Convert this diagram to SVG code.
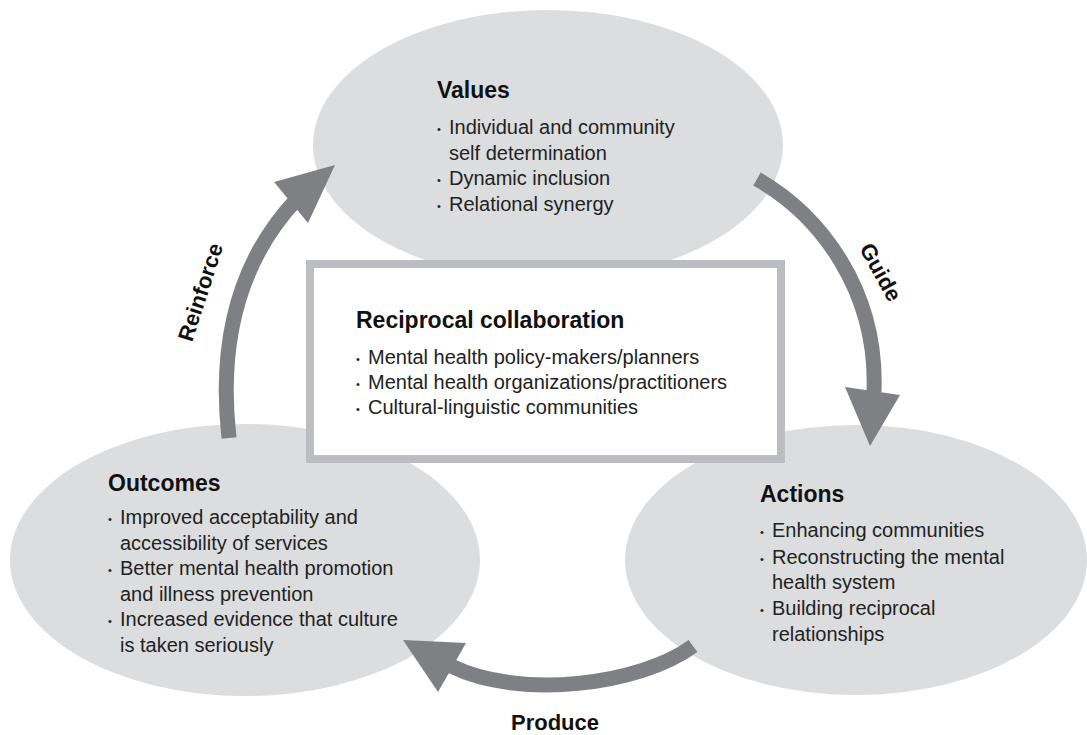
<svg xmlns="http://www.w3.org/2000/svg" width="1087" height="735" viewBox="0 0 1087 735">
<style>
.ell{fill:#dcdddf;}
.box{fill:#ffffff;stroke:#bcbdc0;stroke-width:8;}
.h{font-family:"Liberation Sans",Arial,sans-serif;font-weight:bold;font-size:23px;fill:#111;}
.t{font-family:"Liberation Sans",Arial,sans-serif;font-size:20px;fill:#222;}
.bl{font-size:11px;}
.lbl{font-family:"Liberation Sans",Arial,sans-serif;font-weight:bold;font-size:22px;fill:#111;}
.shaft{fill:none;stroke:#7f8084;stroke-width:15;stroke-linecap:butt;}
.head{fill:#7f8084;}
</style>
<rect width="1087" height="735" fill="#ffffff"/>
<g id="values">
<ellipse class="ell" cx="548" cy="145" rx="235" ry="135"/>
<text class="h" x="437" y="98">Values</text>
<text class="t" x="437" y="134"><tspan class="bl" dy="-1">•</tspan><tspan x="449" dy="1">Individual and community</tspan></text>
<text class="t" x="449" y="159.5">self determination</text>
<text class="t" x="437" y="185"><tspan class="bl" dy="-1">•</tspan><tspan x="449" dy="1">Dynamic inclusion</tspan></text>
<text class="t" x="437" y="210.5"><tspan class="bl" dy="-1">•</tspan><tspan x="449" dy="1">Relational synergy</tspan></text>
</g>
<g id="outcomes">
<ellipse class="ell" cx="245" cy="560" rx="235" ry="136"/>
<text class="h" x="108" y="491">Outcomes</text>
<text class="t" x="108" y="524"><tspan class="bl" dy="-1">•</tspan><tspan x="120" dy="1">Improved acceptability and</tspan></text>
<text class="t" x="120" y="549.5">accessibility of services</text>
<text class="t" x="108" y="575"><tspan class="bl" dy="-1">•</tspan><tspan x="120" dy="1">Better mental health promotion</tspan></text>
<text class="t" x="120" y="600.5">and illness prevention</text>
<text class="t" x="108" y="626"><tspan class="bl" dy="-1">•</tspan><tspan x="120" dy="1">Increased evidence that culture</tspan></text>
<text class="t" x="120" y="651.5">is taken seriously</text>
</g>
<g id="actions">
<ellipse class="ell" cx="856" cy="560" rx="231" ry="135"/>
<text class="h" x="760" y="502">Actions</text>
<text class="t" x="760" y="537"><tspan class="bl" dy="-1">•</tspan><tspan x="772" dy="1">Enhancing communities</tspan></text>
<text class="t" x="760" y="563.5"><tspan class="bl" dy="-1">•</tspan><tspan x="772" dy="1">Reconstructing the mental</tspan></text>
<text class="t" x="772" y="589">health system</text>
<text class="t" x="760" y="615"><tspan class="bl" dy="-1">•</tspan><tspan x="772" dy="1">Building reciprocal</tspan></text>
<text class="t" x="772" y="640.5">relationships</text>
</g>
<g id="collaboration">
<rect class="box" x="310" y="264" width="471" height="195"/>
<text class="h" x="356" y="328">Reciprocal collaboration</text>
<text class="t" x="356" y="364"><tspan class="bl" dy="-1">•</tspan><tspan x="368" dy="1">Mental health policy-makers/planners</tspan></text>
<text class="t" x="356" y="389"><tspan class="bl" dy="-1">•</tspan><tspan x="368" dy="1">Mental health organizations/practitioners</tspan></text>
<text class="t" x="356" y="414"><tspan class="bl" dy="-1">•</tspan><tspan x="368" dy="1">Cultural-linguistic communities</tspan></text>
</g>
<g id="connectors">
<g id="reinforce">
<path class="shaft" d="M229,438 C218,340 240,260 296,200"/>
<polygon class="head" points="335,165 274,182 308,223"/>
<text class="lbl" text-anchor="middle" transform="translate(200,292) rotate(-72)" y="8">Reinforce</text>
</g>
<g id="guide">
<path class="shaft" d="M757,179 C820,215 878,290 874,392"/>
<polygon class="head" points="870,446 845,387 900,395"/>
<text class="lbl" text-anchor="middle" transform="translate(881,272) rotate(61)" y="8">Guide</text>
</g>
<g id="produce">
<path class="shaft" d="M693,646 C640,685 520,700 451,666"/>
<polygon class="head" points="403,640 466,643 438,692"/>
<text class="lbl" text-anchor="middle" x="555" y="730">Produce</text>
</g>
</g>
</svg>
